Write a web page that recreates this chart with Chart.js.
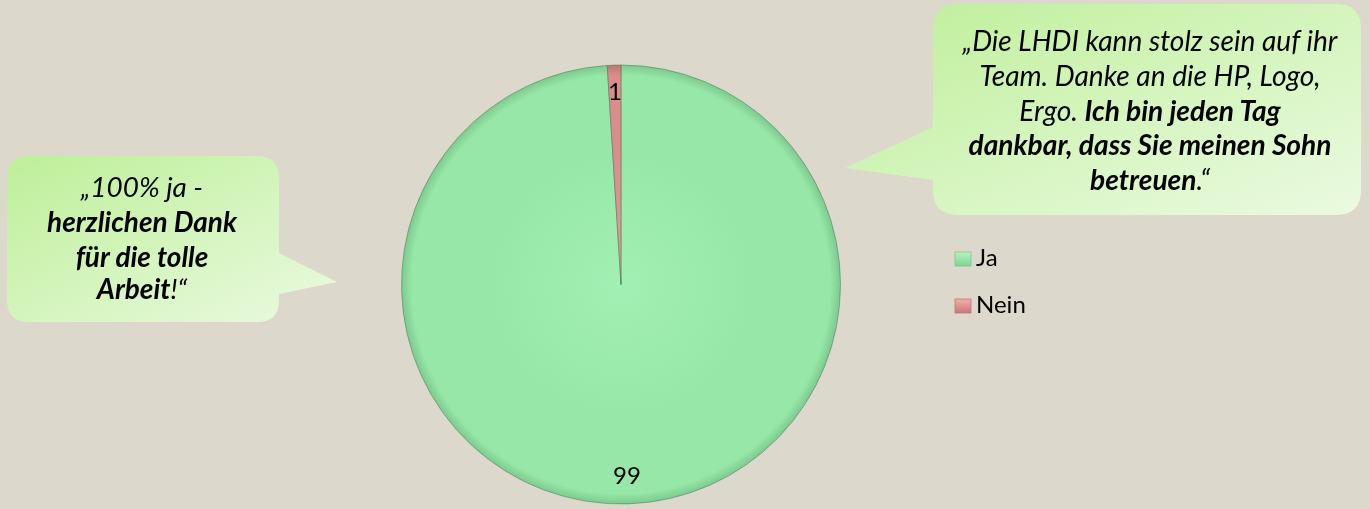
<!DOCTYPE html>
<html>
<head>
<meta charset="utf-8">
<script src="https://cdn.jsdelivr.net/npm/chart.js@4.4.1/dist/chart.umd.min.js"></script>
<style>
  html, body { margin:0; padding:0; background:#dcd8cb; width:1370px; height:509px; overflow:hidden; }
  #wrap { position:relative; width:1370px; height:509px; }
  #c { position:absolute; left:0; top:0; }
  #ov { position:absolute; left:0; top:0; }
  svg text { font-family: Lato, "Open Sans", sans-serif; fill:#000; }
</style>
</head>
<body>
<div id="wrap">
  <canvas id="c" width="1370" height="509"></canvas>
  <svg id="ov" width="1370" height="509" xmlns="http://www.w3.org/2000/svg">
    <defs>
      <linearGradient id="calloutGrad" x1="0" y1="0" x2="1" y2="1">
        <stop offset="0" stop-color="#bdef98"/>
        <stop offset="1" stop-color="#ebfae1"/>
      </linearGradient>
      <linearGradient id="legGrad0" x1="0" y1="0" x2="0" y2="1">
        <stop offset="0" stop-color="#b8f3c4"/>
        <stop offset="1" stop-color="#7fd293"/>
      </linearGradient>
      <linearGradient id="legGrad1" x1="0" y1="0" x2="0" y2="1">
        <stop offset="0" stop-color="#f0b0b0"/>
        <stop offset="1" stop-color="#c97878"/>
      </linearGradient>
    </defs>
    <!-- left callout -->
    <path d="M29,156 H257 Q279,156 279,178 V253 L337,282 L279,294 V300 Q279,322 257,322 H29 Q7,322 7,300 V178 Q7,156 29,156 Z" fill="url(#calloutGrad)"/>
    <!-- right callout -->
    <path d="M958,4 H1336 Q1361,4 1361,29 V190 Q1361,215 1336,215 H958 Q933,215 933,190 V180 L845,168 L933,127 V29 Q933,4 958,4 Z" fill="url(#calloutGrad)"/>
    <g id="leftText" font-size="26" font-style="italic" text-anchor="middle">
      <text x="142" y="197">„100% ja -</text>
      <text id="leftRef" x="142" y="232" font-weight="bold">herzlichen Dank</text>
      <text x="142" y="267" font-weight="bold">für die tolle</text>
      <text x="142" y="299"><tspan font-weight="bold">Arbeit</tspan>!“</text>
    </g>
    <g id="rightText" font-size="24" font-style="italic" text-anchor="middle">
      <text id="rightRef" x="1150" y="51">„Die LHDI kann stolz sein auf ihr</text>
      <text x="1150" y="86">Team. Danke an die HP, Logo,</text>
      <text x="1150" y="120.5">Ergo. <tspan font-weight="bold">Ich bin jeden Tag</tspan></text>
      <text x="1150" y="155" font-weight="bold">dankbar, dass Sie meinen Sohn</text>
      <text x="1150" y="190"><tspan font-weight="bold">betreuen</tspan>.“</text>
    </g>
    <g id="legend" font-size="24"></g>
  </svg>
</div>
<script>
// ---- data ----
const categories = ['Ja', 'Nein'];
const values = [99, 1];
// ---- colours ----
const sliceLight = ['#a2f0b3', '#e69a9a'];
const sliceBase  = ['#97e8a8', '#dc8c8c'];
const sliceEdge  = ['#7cc88e', '#c07474'];

function sliceFill(c) {
  const chart = c.chart;
  const a = chart.chartArea;
  const i = c.dataIndex;
  if (!a) return sliceBase[i];
  const cx = (a.left + a.right) / 2, cy = (a.top + a.bottom) / 2;
  const r = Math.min(a.width, a.height) / 2;
  const g = chart.ctx.createRadialGradient(cx, cy, 0, cx, cy, r);
  g.addColorStop(0, sliceLight[i]);
  g.addColorStop(0.6, sliceBase[i]);
  g.addColorStop(0.95, sliceBase[i]);
  g.addColorStop(1, sliceEdge[i]);
  return g;
}

const labelPlugin = {
  id: 'valueLabels',
  afterDatasetsDraw(chart) {
    const ctx = chart.ctx;
    const meta = chart.getDatasetMeta(0);
    ctx.save();
    ctx.font = '24px Lato, "Open Sans", sans-serif';
    ctx.fillStyle = '#000';
    ctx.textAlign = 'center';
    ctx.textBaseline = 'middle';
    meta.data.forEach((arc, i) => {
      const p = arc.getProps(['x', 'y', 'startAngle', 'endAngle', 'outerRadius'], true);
      const mid = (p.startAngle + p.endAngle) / 2;
      const r = p.outerRadius * 0.875;
      ctx.fillText(String(values[i]), p.x + Math.cos(mid) * r, p.y + Math.sin(mid) * r);
    });
    ctx.restore();
  }
};

new Chart(document.getElementById('c'), {
  type: 'pie',
  data: {
    labels: categories,
    datasets: [{
      data: values,
      backgroundColor: sliceFill,
      borderColor: 'rgba(60,110,75,0.45)',
      borderWidth: 1
    }]
  },
  options: {
    responsive: false,
    animation: false,
    devicePixelRatio: 1,
    layout: { padding: { left: 401, right: 529, top: 64, bottom: 4 } },
    plugins: {
      legend: { display: false },
      tooltip: { enabled: false }
    }
  },
  plugins: [labelPlugin]
});

// ---- legend (built from categories) ----
const NS = 'http://www.w3.org/2000/svg';
const leg = document.getElementById('legend');
categories.forEach((name, i) => {
  const y0 = 252 + i * 47;
  const rect = document.createElementNS(NS, 'rect');
  rect.setAttribute('x', 955); rect.setAttribute('y', y0);
  rect.setAttribute('width', 16); rect.setAttribute('height', 14);
  rect.setAttribute('fill', 'url(#legGrad' + i + ')');
  rect.setAttribute('stroke', sliceEdge[i]); rect.setAttribute('stroke-width', 0.8);
  leg.appendChild(rect);
  const t = document.createElementNS(NS, 'text');
  t.setAttribute('x', 976); t.setAttribute('y', y0 + 14);
  t.textContent = name;
  leg.appendChild(t);
});

// ---- fit callout fonts to reference widths ----
function fit(groupId, refId, target) {
  const g = document.getElementById(groupId);
  const ref = document.getElementById(refId);
  const w = ref.getComputedTextLength();
  const fs = parseFloat(g.getAttribute('font-size'));
  if (w > 0) g.setAttribute('font-size', (fs * target / w).toFixed(2));
}
fit('leftText', 'leftRef', 190);
fit('rightText', 'rightRef', 375);
</script>
</body>
</html>
